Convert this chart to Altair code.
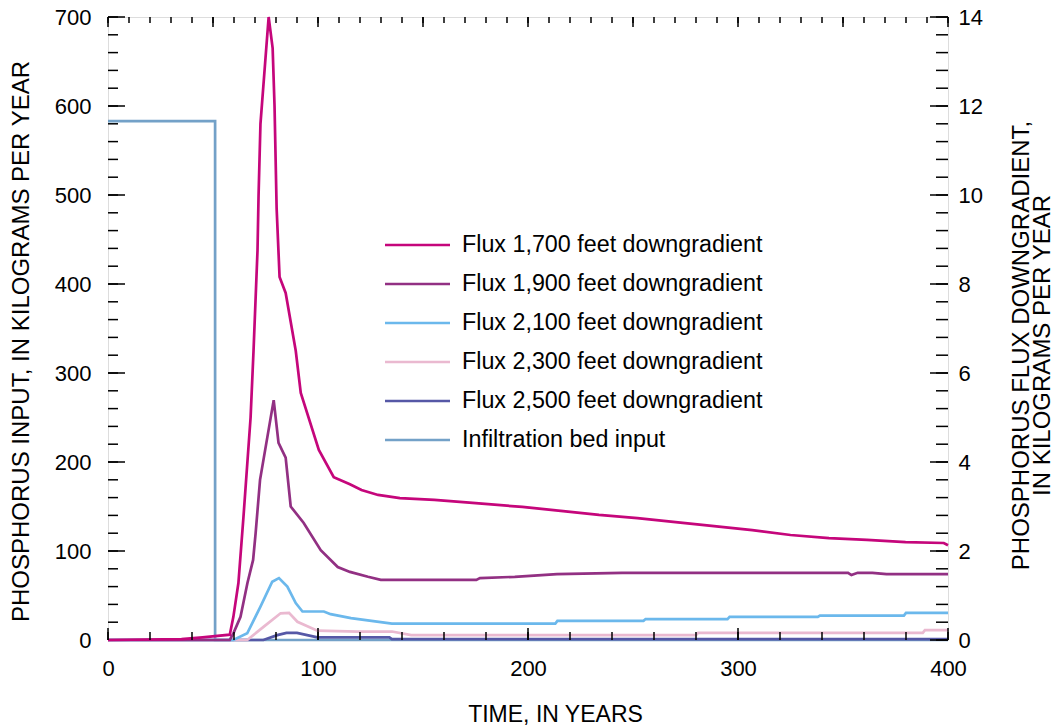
import altair as alt
import pandas as pd

# ---------------- data ----------------
names = [
    "Flux 1,700 feet downgradient",
    "Flux 1,900 feet downgradient",
    "Flux 2,100 feet downgradient",
    "Flux 2,300 feet downgradient",
    "Flux 2,500 feet downgradient",
    "Infiltration bed input",
]
colors = ["#c5067b", "#923083", "#6bb8ec", "#eab9d0", "#5658a6", "#73a1c8"]

years_1700 = [0, 35, 45, 58, 59.7, 62.1, 64.5, 67.9, 69.3, 71.2, 71.7, 72.6, 76.5, 78.4, 79.3,
              80.3, 81.7, 84.6, 89.4, 91.8, 100.4, 107.5, 115.2, 120.7, 128.6, 139, 155.4,
              173.6, 197.3, 215.6, 233.8, 252.1, 270.3, 288.6, 306.8, 325, 343.3, 361.4,
              379.8, 398, 400]
flux_1700 = [0, 0.02, 0.06, 0.12, 0.52, 1.28, 2.76, 5.0, 6.5, 8.76, 10.0, 11.6, 14.0, 13.3, 12.0,
             9.7, 8.16, 7.8, 6.5, 5.55, 4.27, 3.66, 3.5, 3.37, 3.26, 3.19, 3.15,
             3.08, 2.99, 2.9, 2.81, 2.74, 2.65, 2.56, 2.47, 2.36, 2.29, 2.25,
             2.2, 2.18, 2.13]

years_1900 = [0, 58, 59.7, 63.1, 66.4, 69.1, 70.3, 72.4, 78.9, 81.2, 84.6, 87, 93.2, 101.3,
              109.4, 115.2, 123.8, 129.9, 175.4, 177.1, 193.7, 213.8, 244.8, 352.4, 354,
              357, 364, 370.7, 400]
flux_1900 = [0, 0, 0.15, 0.52, 1.28, 1.8, 2.4, 3.6, 5.39, 4.43, 4.1, 3.0, 2.63, 2.02,
             1.64, 1.53, 1.42, 1.35, 1.35, 1.39, 1.42, 1.48, 1.51, 1.51, 1.46,
             1.51, 1.51, 1.48, 1.48]

years_2100 = [0, 59.7, 66.3, 72.6, 78.2, 81.4, 85.4, 89.4, 92.6, 102.8, 106, 115.7, 135.2,
              213, 214, 255, 256, 295, 296, 338, 339, 379, 380, 400]
flux_2100 = [0, 0, 0.15, 0.75, 1.31, 1.39, 1.2, 0.83, 0.64, 0.64, 0.58, 0.49, 0.37,
             0.37, 0.43, 0.43, 0.47, 0.47, 0.52, 0.52, 0.55, 0.55, 0.61, 0.61]

years_2300 = [0, 66.3, 74.2, 82.2, 86.2, 90.2, 99.7, 118.9, 135.2, 144.4, 280, 281, 388, 389, 400]
flux_2300 = [0, 0, 0.3, 0.6, 0.61, 0.41, 0.21, 0.19, 0.19, 0.11, 0.11, 0.16, 0.16, 0.22, 0.22]

years_2500 = [0, 74, 80.6, 85, 90, 99.7, 134, 135.2, 400]
flux_2500 = [0, 0, 0.11, 0.16, 0.16, 0.06, 0.06, 0.02, 0.02]

years_input = [0, 51, 51, 400]
input_kg = [583, 583, 0, 0]

x_ticks_bottom = list(range(0, 401, 20))
x_ticks_bottom_major = [0, 100, 200, 300, 400]
x_ticks_top = list(range(0, 401, 10))
x_ticks_top_major = list(range(0, 401, 50))
left_ticks = list(range(0, 701, 20))
left_ticks_major = list(range(0, 701, 100))
right_ticks = [0, 0.4, 0.8, 1.2, 1.6, 2, 2.4, 2.8, 3.2, 3.6, 4, 4.4, 4.8, 5.2, 5.6, 6, 6.4, 6.8,
               7.2, 7.6, 8, 8.4, 8.8, 9.2, 9.6, 10, 10.4, 10.8, 11.2, 11.6, 12, 12.4, 12.8,
               13.2, 13.6, 14]
right_ticks_major = [0, 2, 4, 6, 8, 10, 12, 14]

# ---------------- layout ----------------
W, H = 840, 623
FONT = "Liberation Sans"

xs = alt.Scale(domain=[0, 400], nice=False, zero=False)
ys_left = alt.Scale(domain=[0, 700], nice=False)
ys_right = alt.Scale(domain=[0, 14], nice=False)
cs = alt.Scale(domain=names, range=colors)


def series_df(name, years, vals):
    return pd.DataFrame({"year": years, "value": vals, "series": name,
                         "idx": list(range(len(years)))})


x_axis = alt.Axis(values=[0, 100, 200, 300, 400], orient="bottom", ticks=False, domain=False,
                  grid=False, labelPadding=18, labelFontSize=22, labelFont=FONT,
                  labelFlush=False, labelColor="black", title="TIME, IN YEARS",
                  titleFont=FONT, titleFontSize=23, titleFontWeight="normal",
                  titleColor="black", titleX=447, titleY=74, titleBaseline="middle",
                  titleAlign="center")

left_axis = alt.Axis(values=left_ticks_major, orient="left", ticks=False, domain=False,
                     grid=False, labelPadding=17, labelFontSize=22, labelFont=FONT,
                     labelFlush=False, labelColor="black",
                     title="PHOSPHORUS INPUT, IN KILOGRAMS PER YEAR",
                     titleFont=FONT, titleFontSize=24, titleFontWeight="normal",
                     titleColor="black", titleAngle=270, titleX=-87, titleY=324,
                     titleAlign="center", titleBaseline="middle")

right_axis = alt.Axis(values=right_ticks_major, orient="right", ticks=False, domain=False,
                      grid=False, labelPadding=10, labelFontSize=22, labelFont=FONT,
                      labelFlush=False, labelColor="black",
                      title=["PHOSPHORUS FLUX DOWNGRADIENT,", "IN KILOGRAMS PER YEAR"],
                      titleFont=FONT, titleFontSize=24, titleFontWeight="normal",
                      titleColor="black", titleAngle=270, titleX=73, titleY=328,
                      titleAlign="center", titleBaseline="middle", titleLineHeight=21)

# infiltration (left scale)
input_line = alt.Chart(series_df(names[5], years_input, input_kg)).mark_line(
    strokeWidth=2.7).encode(
    x=alt.X("year:Q", scale=xs, axis=x_axis),
    y=alt.Y("value:Q", scale=ys_left, axis=left_axis),
    color=alt.Color("series:N", scale=cs, legend=None),
    order="idx:Q",
)


def tick_layer_y(vals, scale, axis, x0, x1):
    return alt.Chart(pd.DataFrame({"value": vals})).mark_rule(
        color="black", strokeWidth=1.5).encode(
        y=alt.Y("value:Q", scale=scale, axis=axis),
        x=alt.value(x0), x2=alt.value(x1))


left_group = alt.layer(
    input_line,
    tick_layer_y(left_ticks, ys_left, left_axis, 0, 10),
    tick_layer_y(left_ticks_major, ys_left, left_axis, 0, 17),
)

flux_sets = [
    (names[4], years_2500, flux_2500),
    (names[3], years_2300, flux_2300),
    (names[2], years_2100, flux_2100),
    (names[1], years_1900, flux_1900),
    (names[0], years_1700, flux_1700),
]
flux_layers = []
for nm, yy, vv in flux_sets:
    flux_layers.append(
        alt.Chart(series_df(nm, yy, vv)).mark_line(strokeWidth=2.7).encode(
            x=alt.X("year:Q", scale=xs, axis=x_axis),
            y=alt.Y("value:Q", scale=ys_right, axis=right_axis),
            color=alt.Color("series:N", scale=cs, legend=None),
            order="idx:Q",
        )
    )

right_group = alt.layer(
    *flux_layers,
    tick_layer_y(right_ticks, ys_right, right_axis, W, W - 12),
    tick_layer_y(right_ticks_major, ys_right, right_axis, W, W - 18),
)


def tick_layer_x(vals, y0, y1):
    return alt.Chart(pd.DataFrame({"year": vals})).mark_rule(
        color="black", strokeWidth=1.5).encode(
        x=alt.X("year:Q", scale=xs, axis=x_axis),
        y=alt.value(y0), y2=alt.value(y1))


x_tick_layers = [
    tick_layer_x(x_ticks_bottom, H, H - 8),
    tick_layer_x(x_ticks_bottom_major, H, H - 12),
    tick_layer_x(x_ticks_top, 0, 6),
    tick_layer_x(x_ticks_top_major, 0, 10),
]

# legend drawn inside the plot
leg_df = pd.DataFrame({"series": names, "row": list(range(len(names)))})
leg_y = alt.Y("row:Q", scale=alt.Scale(domain=[0, 5], range=[228, 423], nice=False, zero=False),
              axis=None)
legend_lines = alt.Chart(leg_df).mark_rule(strokeWidth=2.7).encode(
    y=leg_y, x=alt.value(277), x2=alt.value(342),
    color=alt.Color("series:N", scale=cs, legend=None))
legend_text = alt.Chart(leg_df).mark_text(
    align="left", baseline="middle", font=FONT, fontSize=23.3, color="black").encode(
    y=leg_y, x=alt.value(354), text="series:N")
legend_group = alt.layer(legend_lines, legend_text)

chart = alt.layer(
    left_group, right_group, legend_group, *x_tick_layers
).resolve_scale(
    y="independent"
).properties(
    width=W, height=H,
    autosize=alt.AutoSizeParams(type="none"),
    padding={"left": 108, "top": 17, "right": 115, "bottom": 87},
).configure_view(
    stroke="black", strokeWidth=2
).configure(background="white")

chart.save("out.html", embed_options={"renderer": "svg", "actions": False})
